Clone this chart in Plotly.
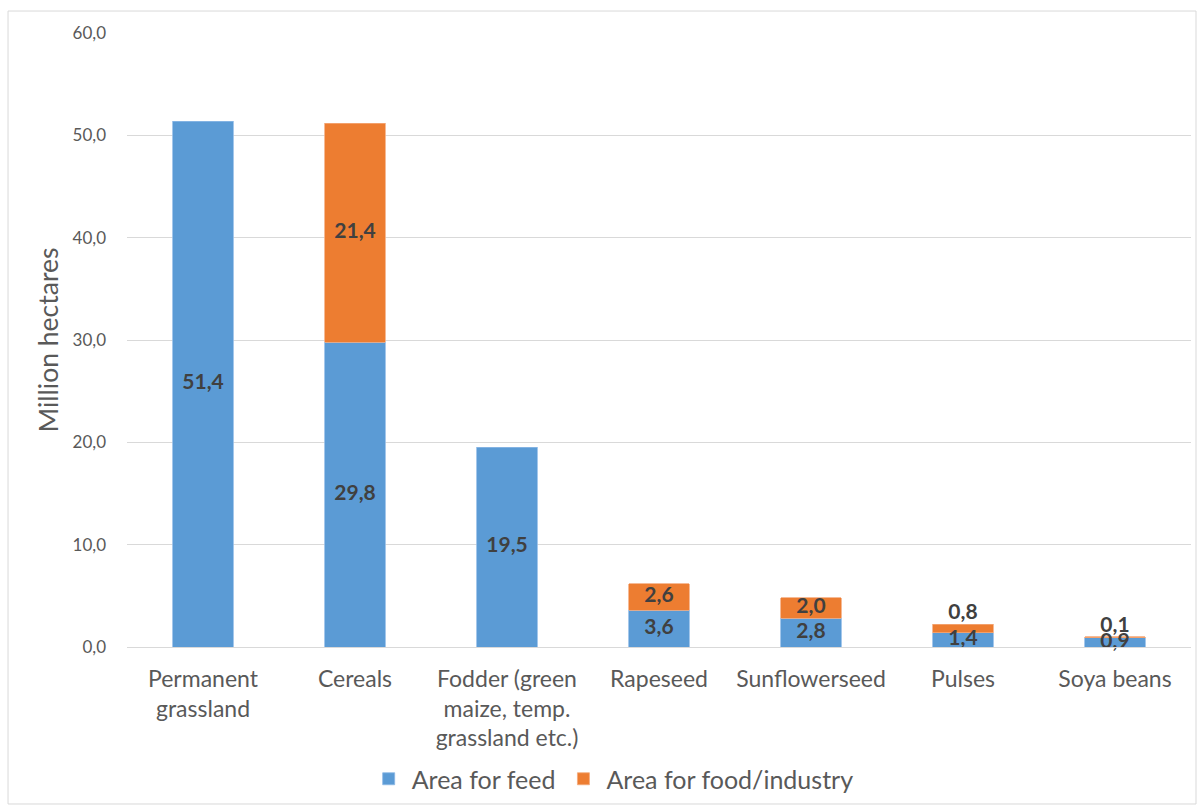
import plotly.graph_objects as go

categories = ["Permanent<br>grassland", "Cereals", "Fodder (green<br>maize, temp.<br>grassland etc.)",
              "Rapeseed", "Sunflowerseed", "Pulses", "Soya beans"]
feed = [51.4, 29.8, 19.5, 3.6, 2.8, 1.4, 0.9]
food = [None, 21.4, None, 2.6, 2.0, 0.8, 0.1]

BLUE = "#5B9BD5"
ORANGE = "#ED7D31"
FONT = "Lato"

fig = go.Figure()
fig.add_trace(go.Bar(x=categories, y=feed, name="Area for feed",
                     marker=dict(color=BLUE, line=dict(color="#8DB9E6", width=0.8)), hoverinfo="skip"))
fig.add_trace(go.Bar(x=categories, y=food, name="Area for food/industry",
                     marker=dict(color=ORANGE, line=dict(color="#F4A97A", width=0.8)), hoverinfo="skip"))

# data labels
lx, ly, lt, lp = [], [], [], []
for c, f, o in zip(categories, feed, food):
    lx.append(c); ly.append(f / 2); lt.append(f"{f:.1f}".replace(".", ",")); lp.append("middle center")
    if o is not None:
        if o < 1:
            lx.append(c); ly.append(f + o); lp.append("top center")
        else:
            lx.append(c); ly.append(f + o / 2); lp.append("middle center")
        lt.append(f"{o:.1f}".replace(".", ","))
fig.add_trace(go.Scatter(x=lx, y=ly, text=lt, mode="text", textposition=lp,
                         textfont=dict(family=FONT, size=21, color="#404040", weight="bold"),
                         showlegend=False, hoverinfo="skip", cliponaxis=False))

fig.update_layout(
    width=1197, height=805,
    barmode="stack", bargap=0.6,
    separators=",.",
    paper_bgcolor="white", plot_bgcolor="white",
    margin=dict(l=127, r=6, t=33, b=158, autoexpand=False),
    font=dict(family=FONT, color="#595959"),
    legend=dict(orientation="h", x=0.456, xanchor="center", y=-0.215, yanchor="middle",
                bgcolor="rgba(0,0,0,0)",
                font=dict(size=25, color="#595959"), traceorder="normal", itemwidth=36),
    xaxis=dict(showgrid=False, showline=True, linecolor="#D9D9D9", linewidth=1,
               tickfont=dict(size=23, color="#595959"), ticklabelstandoff=11, fixedrange=True),
    yaxis=dict(range=[0, 60], dtick=10, tickformat=".1f", showgrid=True, gridcolor="#D9D9D9",
               zeroline=False, showline=False, tickfont=dict(size=17, color="#595959"),
               ticklabelstandoff=20, fixedrange=True,
               title=dict(text="Million hectares", font=dict(size=26.5, color="#595959"), standoff=6)),
    shapes=[dict(type="rect", xref="paper", yref="paper", x0=-0.1118, x1=1.0047, y0=-0.2557, y1=1.0358,
                 line=dict(color="#D9D9D9", width=1), fillcolor="rgba(0,0,0,0)", layer="below")],
)

fig.write_html("out.html", config={"displayModeBar": False},
               post_script="document.body.style.margin='0';")
